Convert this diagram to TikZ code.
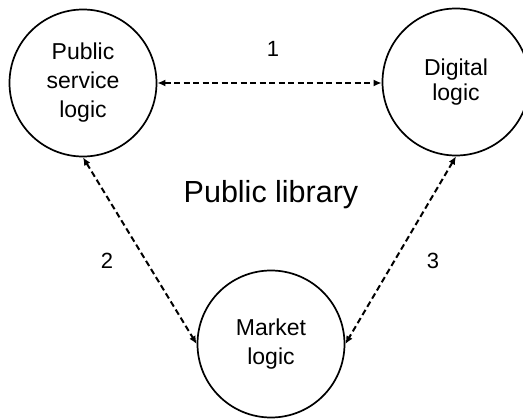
\documentclass[tikz,border=0pt]{standalone}
\usepackage{fontspec}
\setmainfont{Liberation Sans}
\usetikzlibrary{arrows.meta}
\begin{document}
\begin{tikzpicture}[x=1pt,y=-1pt,
  logic/.style={draw, circle, line width=1.7pt, minimum size=147pt, inner sep=0pt,
    align=center, font=\fontsize{23}{29}\selectfont},
  link/.style={dashed, dash pattern=on 6pt off 3.5pt, line width=2pt,
    {Latex[length=8pt,width=7pt]}-{Latex[length=8pt,width=7pt]}},
  num/.style={font=\fontsize{22}{26}\selectfont}]
  \useasboundingbox (0,0) rectangle (523,420);
  \begin{scope}
    \clip (0,0) rectangle (523,420);
    \node[logic] (ps) at (83,83) {Public\\service\\logic};
    \node[logic, font=\fontsize{23}{25}\selectfont] (dg) at (456,82) {Digital\\logic};
    \node[logic] (mk) at (271,344) {Market\\logic};
  \end{scope}
  \draw[link] (ps.east) -- (dg.west |- ps.east);
  \draw[link] (ps.south) -- (mk.west);
  \draw[link] (dg.south) -- (mk.east);
  \node[num] (n1) at (273,49) {1};
  \node[num] (n2) at (107,261) {2};
  \node[num] (n3) at (433,261) {3};
  \node[font=\fontsize{30.5}{36}\selectfont] (title) at (271,195) {Public library};
\end{tikzpicture}
\end{document}
